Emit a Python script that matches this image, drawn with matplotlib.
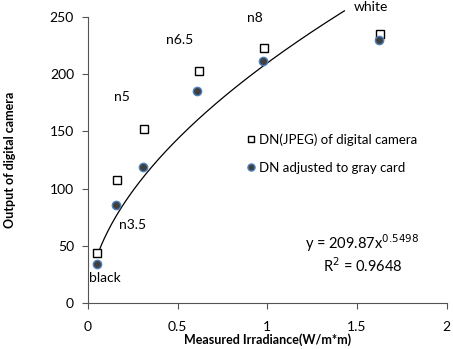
import matplotlib
matplotlib.use('Agg')
import matplotlib.pyplot as plt
import numpy as np

plt.rcParams['font.family'] = ['Lato', 'DejaVu Sans']

# measured irradiance and camera output
irr_jpeg = [0.05, 0.16, 0.314, 0.617, 0.98, 1.63]
dn_jpeg = [43.5, 107.5, 152, 203, 223, 235.5]
irr_gray = [0.05, 0.155, 0.31, 0.61, 0.975, 1.625]
dn_gray = [34, 86, 119, 185, 212, 230]
patch_names = ['black', 'n3.5', 'n5', 'n6.5', 'n8', 'white']
name_x = [0.095, 0.25, 0.19, 0.51, 0.93, 1.576]
name_y = [22, 68, 180, 230, 249, 259]

fit_a = 209.87
fit_b = 0.5498
fit_x = np.linspace(0.065, 1.43, 200)
fit_y = fit_a * fit_x ** fit_b

fig = plt.figure(figsize=(4.53, 3.49), dpi=100)
ax = fig.add_axes([0.194, 0.132, 0.792, 0.819])

ax.plot(fit_x, fit_y, color='black', lw=0.9, clip_on=False)
ax.plot(irr_jpeg, dn_jpeg, 's', ms=5.5, mfc='white', mec='black', mew=1.0,
        label='DN(JPEG) of digital camera', clip_on=False)
ax.plot(irr_gray, dn_gray, 'o', ms=6, mfc='#404040', mec='#4f81bd', mew=1.0,
        label='DN adjusted to gray card', clip_on=False)

for n, x, y in zip(patch_names, name_x, name_y):
    ax.text(x, y, n, fontsize=10, ha='center', va='center', clip_on=False)

ax.text(1.53, 52, 'y = 209.87x$^{0.5498}$', fontsize=10.5, ha='center', va='center')
ax.text(1.53, 33, 'R$^{2}$ = 0.9648', fontsize=10.5, ha='center', va='center')

ax.set_xlim(0, 2)
ax.set_ylim(0, 250)
ax.set_xticks([0, 0.5, 1, 1.5, 2])
ax.set_xticklabels(['0', '0.5', '1', '1.5', '2'])
ax.set_yticks([0, 50, 100, 150, 200, 250])
ax.spines['top'].set_visible(False)
ax.spines['right'].set_visible(False)
ax.spines['left'].set_color('#555555')
ax.spines['bottom'].set_color('#555555')
ax.tick_params(direction='out', length=4, labelsize=10, color='#555555', pad=6)
ax.tick_params(axis='x', pad=9)

ax.set_xlabel('Measured Irradiance(W/m*m)', fontsize=9, fontweight='bold', labelpad=0)
ax.set_ylabel('Output of digital camera', fontsize=9, fontweight='bold', labelpad=24)

ax.legend(loc='center left', bbox_to_anchor=(0.425, 0.523), frameon=False,
          fontsize=9.5, handlelength=0.6, handletextpad=0.3, labelspacing=1.2,
          borderpad=0, markerscale=0.85)

fig.savefig('out.png', dpi=100)
